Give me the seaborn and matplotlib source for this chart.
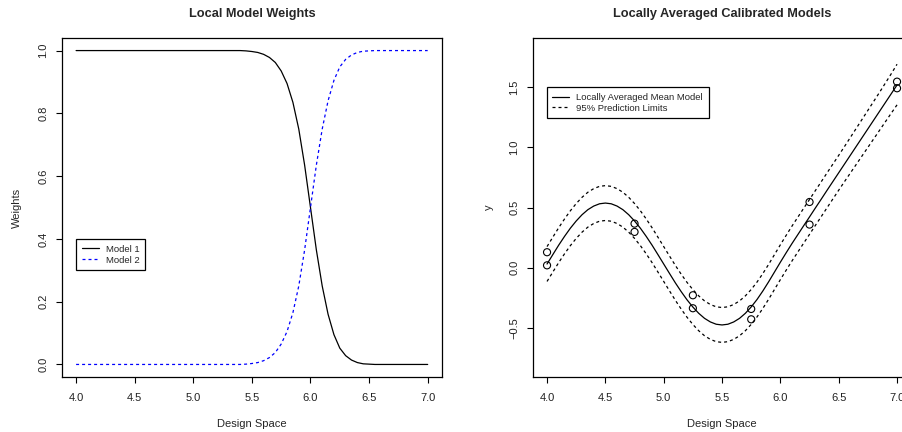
import numpy as np
import pandas as pd
import matplotlib
matplotlib.use("Agg")
import matplotlib.pyplot as plt
import seaborn as sns

# --- data ------------------------------------------------------------------
# left panel: local model weights
w_x = [4.0, 4.5, 5.0, 5.4, 5.45, 5.5, 5.55, 5.6, 5.65, 5.7, 5.75, 5.8, 5.85,
       5.9, 5.95, 6.0, 6.05, 6.1, 6.15, 6.2, 6.25, 6.3, 6.35, 6.4, 6.45, 6.5,
       6.55, 6.6, 7.0]
w_model1 = [1.0, 1.0, 1.0, 1.0, 0.999, 0.997, 0.994, 0.988, 0.978, 0.962,
            0.935, 0.895, 0.835, 0.750, 0.635, 0.500, 0.365, 0.250, 0.160,
            0.095, 0.052, 0.028, 0.014, 0.006, 0.002, 0.001, 0.0, 0.0, 0.0]
w_model2 = [0.0, 0.0, 0.0, 0.0, 0.001, 0.003, 0.006, 0.012, 0.022, 0.038,
            0.065, 0.105, 0.165, 0.250, 0.365, 0.500, 0.635, 0.750, 0.840,
            0.905, 0.948, 0.972, 0.986, 0.994, 0.998, 0.999, 1.0, 1.0, 1.0]

# right panel: locally averaged model and 95% limits
m_x = [4.00, 4.05, 4.10, 4.15, 4.20, 4.25, 4.30, 4.35, 4.40, 4.45, 4.50,
       4.55, 4.60, 4.65, 4.70, 4.75, 4.80, 4.85, 4.90, 4.95, 5.00, 5.05,
       5.10, 5.15, 5.20, 5.25, 5.30, 5.35, 5.40, 5.45, 5.50, 5.55, 5.60,
       5.65, 5.70, 5.75, 5.80, 5.85, 5.90, 5.95, 6.00, 6.05, 6.10, 6.15,
       6.20, 6.25, 6.30, 6.35, 6.40, 6.45, 6.50, 6.55, 6.60, 6.65, 6.70,
       6.75, 6.80, 6.85, 6.90, 6.95, 7.00]
m_mean = [0.030, 0.109, 0.187, 0.260, 0.328, 0.388, 0.440, 0.482, 0.512,
          0.531, 0.537, 0.531, 0.512, 0.482, 0.440, 0.388, 0.328, 0.260,
          0.187, 0.109, 0.030, -0.049, -0.127, -0.200, -0.268, -0.328,
          -0.380, -0.422, -0.452, -0.471, -0.477, -0.471, -0.452, -0.422,
          -0.380, -0.327, -0.265, -0.194, -0.117, -0.036, 0.045, 0.124,
          0.201, 0.275, 0.349, 0.422, 0.496, 0.569, 0.643, 0.716, 0.789,
          0.862, 0.935, 1.008, 1.081, 1.154, 1.227, 1.300, 1.373, 1.446,
          1.519]
m_upper = [0.175, 0.254, 0.332, 0.405, 0.473, 0.533, 0.585, 0.627, 0.657,
           0.676, 0.682, 0.676, 0.657, 0.627, 0.585, 0.533, 0.473, 0.405,
           0.332, 0.254, 0.175, 0.096, 0.018, -0.055, -0.123, -0.183,
           -0.235, -0.277, -0.307, -0.326, -0.332, -0.326, -0.307, -0.277,
           -0.235, -0.182, -0.120, -0.049, 0.028, 0.109, 0.190, 0.269,
           0.346, 0.420, 0.494, 0.567, 0.641, 0.714, 0.788, 0.861, 0.934,
           1.008, 1.083, 1.158, 1.233, 1.308, 1.383, 1.458, 1.535, 1.612,
           1.692]
m_lower = [-0.115, -0.036, 0.042, 0.115, 0.183, 0.243, 0.295, 0.337, 0.367,
           0.386, 0.392, 0.386, 0.367, 0.337, 0.295, 0.243, 0.183, 0.115,
           0.042, -0.036, -0.115, -0.194, -0.272, -0.345, -0.413, -0.473,
           -0.525, -0.567, -0.597, -0.616, -0.622, -0.616, -0.597, -0.567,
           -0.525, -0.472, -0.410, -0.339, -0.262, -0.181, -0.100, -0.021,
           0.056, 0.130, 0.204, 0.277, 0.351, 0.424, 0.498, 0.571, 0.644,
           0.716, 0.787, 0.858, 0.929, 1.000, 1.071, 1.142, 1.213, 1.284,
           1.354]

# observed points
obs_x = [4.0, 4.0, 4.75, 4.75, 5.25, 5.25, 5.75, 5.75, 6.25, 6.25, 7.0, 7.0]
obs_y = [0.128, 0.019, 0.366, 0.297, -0.230, -0.338, -0.344, -0.430,
         0.546, 0.358, 1.547, 1.492]

x_ticks = [4.0, 4.5, 5.0, 5.5, 6.0, 6.5, 7.0]
left_yticks = [0.0, 0.2, 0.4, 0.6, 0.8, 1.0]
right_yticks = [-0.5, 0.0, 0.5, 1.0, 1.5]

# --- style ------------------------------------------------------------------
sns.set_style("ticks")
plt.rcParams["font.family"] = ["Liberation Sans", "DejaVu Sans"]
plt.rcParams["axes.unicode_minus"] = True

fig = plt.figure(figsize=(9.03, 4.32), dpi=100)
ax1 = fig.add_axes([0.0687, 0.1273, 0.4205, 0.7847])
ax2 = fig.add_axes([0.5903, 0.1273, 0.4186, 0.7847])

dash = (2.4, 2.4)
lw = 0.9


def r_style(ax, yticks, xlim, ylim):
    ax.set_xlim(*xlim)
    ax.set_ylim(*ylim)
    ax.set_xticks(x_ticks)
    ax.set_xticklabels([f"{t:.1f}" for t in x_ticks])
    ax.set_yticks(yticks)
    ax.set_yticklabels([f"{t:.1f}".replace("-", "\u2212") for t in yticks],
                       rotation=90, va="center")
    for sp in ax.spines.values():
        sp.set_visible(True)
        sp.set_color("black")
        sp.set_linewidth(0.9)
    ax.tick_params(direction="out", length=4.3, width=0.8, color="black",
                   labelsize=8, labelcolor="#222222")
    ax.tick_params(axis="x", pad=7.5)
    ax.tick_params(axis="y", pad=5.5)
    ax.grid(False)


def r_legend(ax, anchor):
    leg = ax.legend(loc="upper left", bbox_to_anchor=anchor, fontsize=6.8,
                    frameon=True, fancybox=False, handlelength=1.8,
                    borderpad=0.6, labelspacing=0.2, handletextpad=0.75,
                    borderaxespad=0)
    leg.get_frame().set_edgecolor("black")
    leg.get_frame().set_linewidth(0.9)
    leg.get_frame().set_alpha(1)
    leg.get_lines()[1].set_dashes(dash)
    return leg


# left panel
sns.lineplot(x=w_x, y=w_model1, ax=ax1, color="black", linewidth=lw,
             label="Model 1")
sns.lineplot(x=w_x, y=w_model2, ax=ax1, color="#0000ff", linewidth=lw,
             label="Model 2")
ax1.lines[1].set_dashes(dash)
r_style(ax1, left_yticks, (3.88, 7.12), (-0.04, 1.04))
ax1.set_title("Local Model Weights", fontsize=9.15, fontweight="bold", pad=15)
ax1.set_xlabel("Design Space", fontsize=8)
ax1.set_ylabel("Weights", fontsize=8)
ax1.xaxis.set_label_coords(0.5, -0.125)
ax1.yaxis.set_label_coords(-0.105, 0.5)
r_legend(ax1, (0.037, 0.407))

# right panel
sns.lineplot(x=m_x, y=m_mean, ax=ax2, color="black", linewidth=lw,
             label="Locally Averaged Mean Model")
sns.lineplot(x=m_x, y=m_upper, ax=ax2, color="black", linewidth=lw,
             label="95% Prediction Limits")
sns.lineplot(x=m_x, y=m_lower, ax=ax2, color="black", linewidth=lw)
ax2.lines[1].set_dashes(dash)
ax2.lines[2].set_dashes(dash)
sns.scatterplot(x=obs_x, y=obs_y, ax=ax2, marker="o", s=26, fc="none",
                ec="black", linewidth=0.8, zorder=3)
r_style(ax2, right_yticks, (3.88, 7.12), (-0.91, 1.91))
ax2.set_title("Locally Averaged Calibrated Models", fontsize=9.15,
              fontweight="bold", pad=15)
ax2.set_xlabel("Design Space", fontsize=8)
ax2.set_ylabel("y", fontsize=8)
ax2.xaxis.set_label_coords(0.5, -0.125)
ax2.yaxis.set_label_coords(-0.103, 0.5)
r_legend(ax2, (0.036, 0.855))

fig.savefig("out.png", dpi=100)
